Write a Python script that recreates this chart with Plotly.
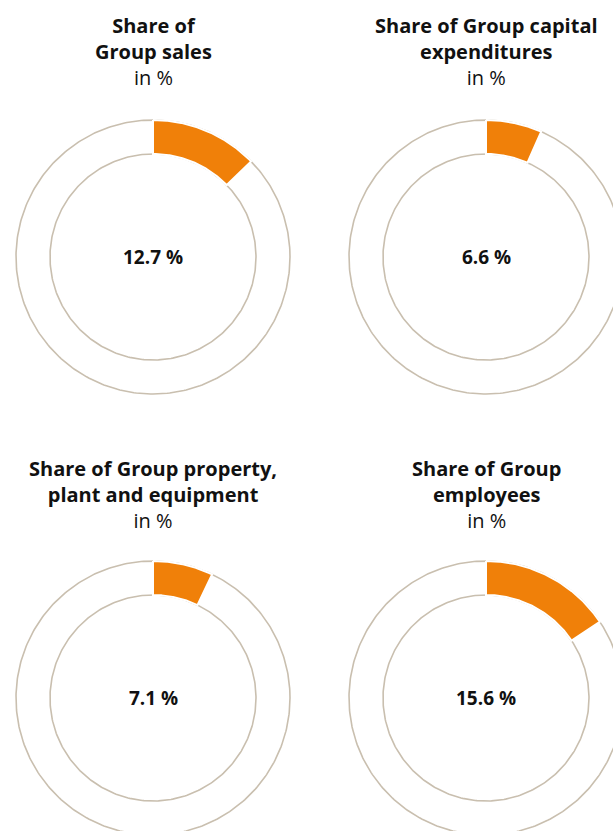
import numpy as np
import plotly.graph_objects as go

# Chart content
titles = [
    ["Share of", "Group sales"],
    ["Share of Group capital", "expenditures"],
    ["Share of Group property,", "plant and equipment"],
    ["Share of Group", "employees"],
]
unit_label = "in %"
shares = [12.7, 6.6, 7.1, 15.6]  # percent of group total

# Layout (pixel units: x to the right, y downward)
W, H = 613, 831
centers_x = [153, 486, 153, 486]
centers_y = [257, 257, 698, 698]
title_top = [10, 10, 453, 453]
R_OUT, R_IN = 137, 103

ORANGE = "#F08009"
TAN = "#C9BFAF"
FONT = "Open Sans"

fig = go.Figure()

full = np.linspace(0, 2 * np.pi, 361)
for cx, cy, v in zip(centers_x, centers_y, shares):
    # outline of the ring
    for r in (R_OUT, R_IN):
        fig.add_trace(go.Scatter(
            x=cx + r * np.cos(full), y=cy + r * np.sin(full),
            mode="lines", line=dict(color=TAN, width=1.6),
            hoverinfo="skip", showlegend=False,
        ))
    # share segment, clockwise from 12 o'clock
    theta = np.pi / 2 - np.linspace(0, 2 * np.pi * v / 100, 120)
    xs = np.concatenate([cx + R_OUT * np.cos(theta), cx + R_IN * np.cos(theta[::-1])])
    ys = np.concatenate([cy - R_OUT * np.sin(theta), cy - R_IN * np.sin(theta[::-1])])
    fig.add_trace(go.Scatter(
        x=np.append(xs, xs[0]), y=np.append(ys, ys[0]),
        mode="lines", fill="toself", fillcolor=ORANGE,
        line=dict(color="white", width=2),
        hoverinfo="skip", showlegend=False,
    ))

annotations = []
for t, cx, cy, top, v in zip(titles, centers_x, centers_y, title_top, shares):
    text = "<br>".join(f"<b>{line}</b>" for line in t) + f"<br>{unit_label}"
    annotations.append(dict(
        x=cx, y=top, xref="x", yref="y", text=text, showarrow=False,
        xanchor="center", yanchor="top", align="center",
        font=dict(family=FONT, size=20, color="#111111"),
    ))
    annotations.append(dict(
        x=cx, y=cy, xref="x", yref="y", text=f"<b>{v:.1f} %</b>",
        showarrow=False, xanchor="center", yanchor="middle",
        font=dict(family=FONT, size=19, color="#111111"),
    ))

fig.update_layout(
    width=W, height=H,
    margin=dict(l=0, r=0, t=0, b=0),
    paper_bgcolor="white", plot_bgcolor="white",
    xaxis=dict(range=[0, W], visible=False, fixedrange=True),
    yaxis=dict(range=[H, 0], visible=False, fixedrange=True),
    annotations=annotations,
    showlegend=False,
)

fig.write_html("out.html")
